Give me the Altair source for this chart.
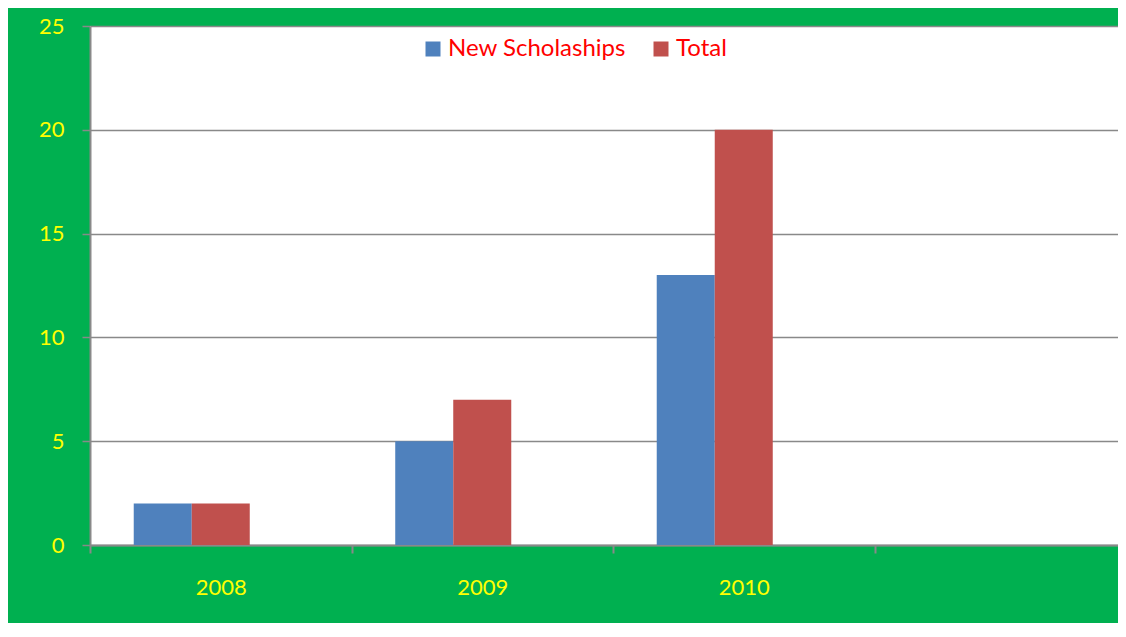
import altair as alt
import pandas as pd

years = ["2008", "2009", "2010", " "]
series = ["New Scholaships", "Total"]
new_scholarships = [2, 5, 13]
total = [2, 7, 20]
colors = ["#4F81BD", "#C0504D"]

rows = []
for i, y in enumerate(years[:3]):
    rows.append({"year": y, "series": series[0], "value": new_scholarships[i]})
    rows.append({"year": y, "series": series[1], "value": total[i]})
df = pd.DataFrame(rows)

FONT = "Lato"
GRID = "#898989"

chart = alt.Chart(df).mark_bar(stroke=None).encode(
    x=alt.X("year:N", sort=years,
            scale=alt.Scale(domain=years, range=[0, 1046], paddingInner=0, paddingOuter=0),
            axis=alt.Axis(title=None, labelAngle=0, tickBand="extent", domainColor=GRID,
                          domainWidth=2, tickColor=GRID, tickWidth=2, tickSize=8,
                          labelColor="#FFFF00", labelFont=FONT, labelFontSize=22,
                          labelPadding=24, grid=False)),
    xOffset=alt.XOffset("series:N",
                        scale=alt.Scale(domain=series + ["_3"], paddingInner=0, paddingOuter=0.754)),
    y=alt.Y("value:Q",
            scale=alt.Scale(domain=[0, 25], nice=False),
            axis=alt.Axis(title=None, values=[0, 5, 10, 15, 20, 25], grid=True,
                          gridColor=GRID, gridWidth=1.5, domainColor=GRID, domainWidth=2,
                          tickColor=GRID, tickWidth=1.5, tickSize=8,
                          labelColor="#FFFF00", labelFont=FONT, labelFontSize=22,
                          labelPadding=18)),
    color=alt.Color("series:N",
                    scale=alt.Scale(domain=series, range=colors),
                    legend=alt.Legend(title=None, orient="none", direction="horizontal",
                                      legendX=331, legendY=11, symbolType="square",
                                      symbolSize=225, symbolStrokeWidth=0,
                                      labelColor="#FF0000", labelFont=FONT,
                                      labelFontSize=24, labelLimit=400,
                                      columnPadding=23, labelOffset=3)),
).properties(
    width=1028,
    height=519,
    background="#00B050",
    padding={"left": 82, "top": 18, "right": 0, "bottom": 78},
    autosize=alt.AutoSizeParams(type="none"),
).configure_view(fill="white", stroke=None)

chart.save("out.html", embed_options={"renderer": "svg", "actions": False})
